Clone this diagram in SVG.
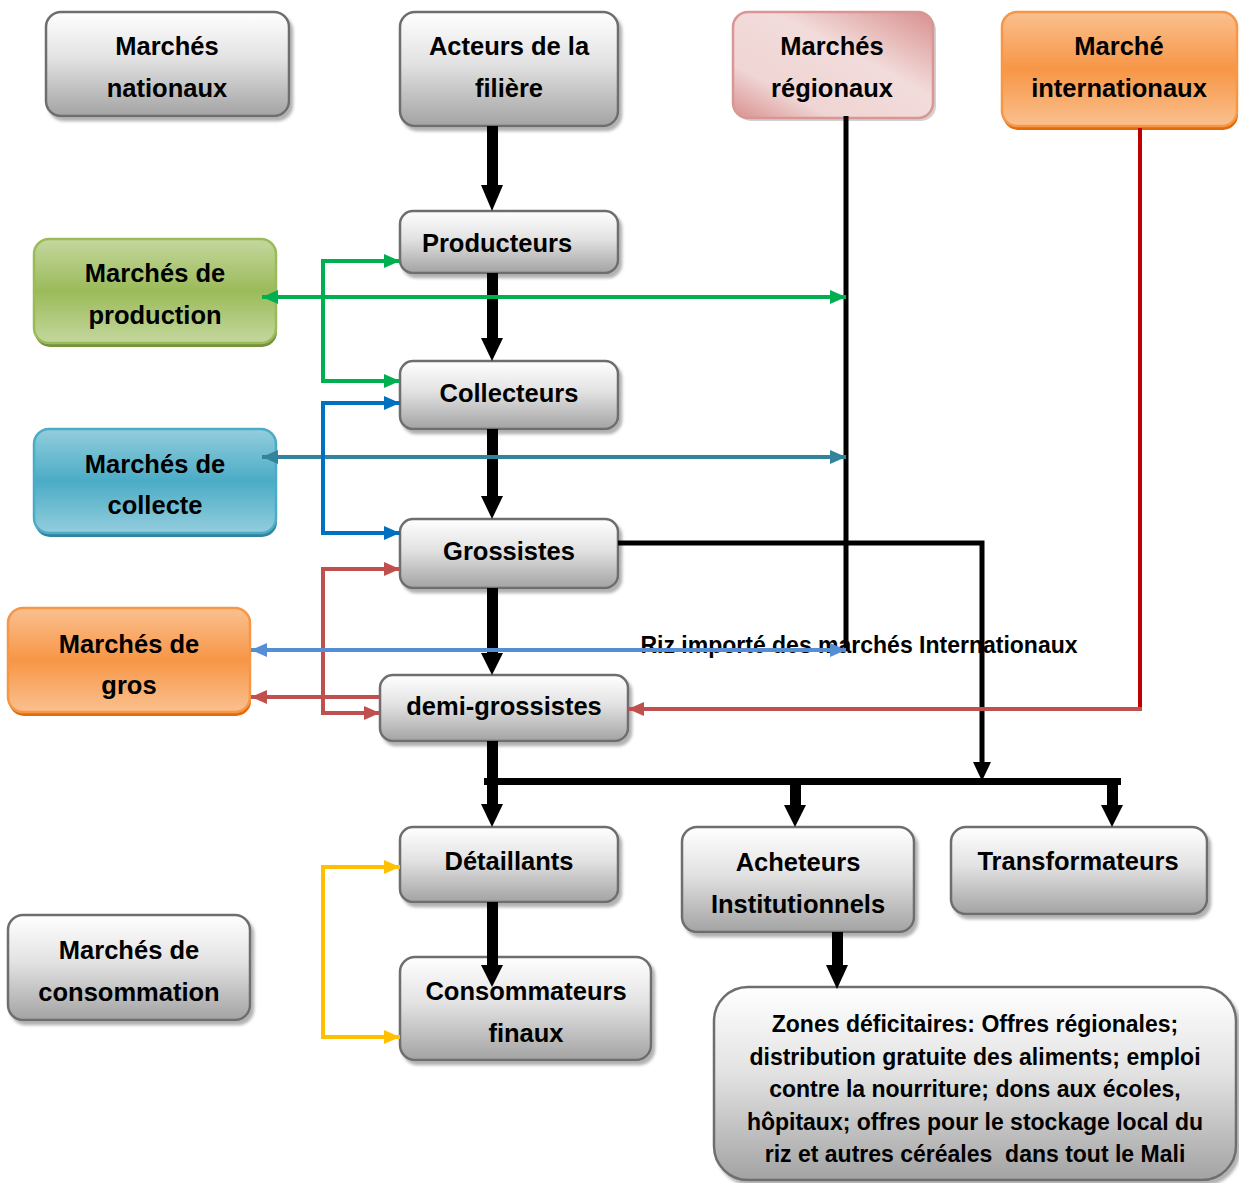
<svg xmlns="http://www.w3.org/2000/svg" width="1239" height="1183" viewBox="0 0 1239 1183">
<defs>
<linearGradient id="gGray" x1="0" y1="0" x2="0" y2="1"><stop offset="0" stop-color="#ffffff"/><stop offset="0.45" stop-color="#e2e2e2"/><stop offset="1" stop-color="#a3a3a3"/></linearGradient>
<linearGradient id="gGreen" x1="0" y1="0" x2="0" y2="1"><stop offset="0" stop-color="#c4d79e"/><stop offset="0.5" stop-color="#9bbb59"/><stop offset="1" stop-color="#c4d79e"/></linearGradient>
<linearGradient id="gBlue" x1="0" y1="0" x2="0" y2="1"><stop offset="0" stop-color="#93cddd"/><stop offset="0.5" stop-color="#4bacc6"/><stop offset="1" stop-color="#93cddd"/></linearGradient>
<linearGradient id="gOrange" x1="0" y1="0" x2="0" y2="1"><stop offset="0" stop-color="#fac08f"/><stop offset="0.5" stop-color="#f79646"/><stop offset="1" stop-color="#fac08f"/></linearGradient>
<linearGradient id="gPink" x1="1" y1="0" x2="0" y2="1"><stop offset="0" stop-color="#d8908e"/><stop offset="0.4" stop-color="#f2dcdb"/><stop offset="0.75" stop-color="#efd5d4"/><stop offset="1" stop-color="#d8908e"/></linearGradient>
<filter id="sh" x="-10%" y="-10%" width="125%" height="130%"><feDropShadow dx="3" dy="4" stdDeviation="1.5" flood-color="#000" flood-opacity="0.3"/></filter>
<marker id="aG" markerWidth="16" markerHeight="14" refX="16" refY="7" orient="auto-start-reverse" markerUnits="userSpaceOnUse"><path d="M0,0 L16,7 L0,14 z" fill="#00b050"/></marker>
<marker id="aT" markerWidth="16" markerHeight="14" refX="16" refY="7" orient="auto-start-reverse" markerUnits="userSpaceOnUse"><path d="M0,0 L16,7 L0,14 z" fill="#31849b"/></marker>
<marker id="aB" markerWidth="16" markerHeight="14" refX="16" refY="7" orient="auto-start-reverse" markerUnits="userSpaceOnUse"><path d="M0,0 L16,7 L0,14 z" fill="#0070c0"/></marker>
<marker id="aR" markerWidth="16" markerHeight="14" refX="16" refY="7" orient="auto-start-reverse" markerUnits="userSpaceOnUse"><path d="M0,0 L16,7 L0,14 z" fill="#c0504d"/></marker>
<marker id="aL" markerWidth="16" markerHeight="14" refX="16" refY="7" orient="auto-start-reverse" markerUnits="userSpaceOnUse"><path d="M0,0 L16,7 L0,14 z" fill="#558ed5"/></marker>
<marker id="aY" markerWidth="16" markerHeight="14" refX="16" refY="7" orient="auto-start-reverse" markerUnits="userSpaceOnUse"><path d="M0,0 L16,7 L0,14 z" fill="#ffc000"/></marker>
</defs>
<style>
text{font-family:"Liberation Sans",Arial,sans-serif;font-weight:bold;fill:#000;text-anchor:middle}
.t{font-size:25.5px}
.z{font-size:23px}
.gray{fill:url(#gGray);stroke:#6e6e6e;stroke-width:2.5;filter:url(#sh)}
.green{fill:url(#gGreen);stroke:#9bbb59;stroke-width:2.5}
.blue{fill:url(#gBlue);stroke:#4bacc6;stroke-width:2.5}
.orange{fill:url(#gOrange);stroke:#f79646;stroke-width:2.5}
.pink{fill:url(#gPink);stroke:#d99694;stroke-width:2.5}
.c{fill:none;stroke-width:4}
.k{fill:#000}
</style>
<rect width="1239" height="1183" fill="#fff"/>

<g id="n-nationaux"><rect class="gray" x="46" y="12" width="243" height="104" rx="15"/><text class="t" x="167" y="55">Marchés</text><text class="t" x="167" y="97">nationaux</text></g>
<g id="n-acteurs"><rect class="gray" x="400" y="12" width="218" height="114" rx="15"/><text class="t" x="509" y="55">Acteurs de la</text><text class="t" x="509" y="97">filière</text></g>
<g id="n-regionaux"><rect x="736" y="15" width="200" height="106" rx="15" fill="#b3b3b3" opacity="0.6"/><rect class="pink" x="733" y="12" width="200" height="106" rx="15"/><text class="t" x="832" y="55">Marchés</text><text class="t" x="832" y="97">régionaux</text></g>
<g id="n-internationaux"><rect x="1003" y="16" width="235" height="114" rx="15" fill="#e36c09"/><rect class="orange" x="1002" y="12" width="235" height="114" rx="15"/><text class="t" x="1119" y="55">Marché</text><text class="t" x="1119" y="97">internationaux</text></g>
<g id="n-producteurs"><rect class="gray" x="400" y="211" width="218" height="62" rx="13"/><text class="t" x="497" y="252">Producteurs</text></g>
<g id="n-mprod"><rect x="35" y="243" width="242" height="104" rx="15" fill="#76923c"/><rect class="green" x="34" y="239" width="242" height="104" rx="15"/><text class="t" x="155" y="282">Marchés de</text><text class="t" x="155" y="324">production</text></g>
<g id="n-collecteurs"><rect class="gray" x="400" y="361" width="218" height="68" rx="13"/><text class="t" x="509" y="402">Collecteurs</text></g>
<g id="n-mcoll"><rect x="35" y="433" width="242" height="104" rx="15" fill="#31849b"/><rect class="blue" x="34" y="429" width="242" height="104" rx="15"/><text class="t" x="155" y="473">Marchés de</text><text class="t" x="155" y="514">collecte</text></g>
<g id="n-grossistes"><rect class="gray" x="400" y="519" width="218" height="69" rx="13"/><text class="t" x="509" y="560">Grossistes</text></g>
<g id="n-mgros"><rect x="9" y="612" width="242" height="104" rx="15" fill="#e36c09"/><rect class="orange" x="8" y="608" width="242" height="104" rx="15"/><text class="t" x="129" y="653">Marchés de</text><text class="t" x="129" y="694">gros</text></g>
<g id="n-demi"><rect class="gray" x="380" y="675" width="248" height="66" rx="13"/><text class="t" x="504" y="715">demi-grossistes</text></g>
<g id="n-detaillants"><rect class="gray" x="400" y="827" width="218" height="75" rx="13"/><text class="t" x="509" y="870">Détaillants</text></g>
<g id="n-consommateurs"><rect class="gray" x="400" y="957" width="251" height="103" rx="15"/><text class="t" x="526" y="1000">Consommateurs</text><text class="t" x="526" y="1042">finaux</text></g>
<g id="n-mcons"><rect class="gray" x="8" y="915" width="242" height="105" rx="15"/><text class="t" x="129" y="959">Marchés de</text><text class="t" x="129" y="1001">consommation</text></g>
<g id="n-acheteurs"><rect class="gray" x="682" y="827" width="232" height="105" rx="15"/><text class="t" x="798" y="871">Acheteurs</text><text class="t" x="798" y="913">Institutionnels</text></g>
<g id="n-transformateurs"><rect class="gray" x="951" y="827" width="256" height="87" rx="15"/><text class="t" x="1078" y="870">Transformateurs</text></g>
<g id="n-zones"><rect class="gray" x="714" y="987" width="522" height="193" rx="34"/>
<text class="z" x="975" y="1032">Zones déficitaires: Offres régionales;</text>
<text class="z" x="975" y="1065">distribution gratuite des aliments; emploi</text>
<text class="z" x="975" y="1097">contre la nourriture; dons aux écoles,</text>
<text class="z" x="975" y="1130">hôpitaux; offres pour le stockage local du</text>
<text class="z" x="975" y="1162" xml:space="preserve">riz et autres céréales  dans tout le Mali</text></g>

<g id="label-riz"><text class="z" x="859" y="653">Riz importé des marchés Internationaux</text></g>

<g id="connectors">
<rect class="k" x="487" y="126" width="11" height="60"/><polygon class="k" points="481,185 503,185 492,211"/>
<rect class="k" x="487" y="273" width="11" height="66"/><polygon class="k" points="481,338 503,338 492,361"/>
<rect class="k" x="487" y="429" width="11" height="68"/><polygon class="k" points="481,496 503,496 492,519"/>
<rect class="k" x="487" y="588" width="11" height="66"/><polygon class="k" points="481,653 503,653 492,675"/>
<rect class="k" x="487" y="741" width="11" height="64"/><polygon class="k" points="481,804 503,804 492,827"/>
<rect class="k" x="487" y="902" width="11" height="64"/><polygon class="k" points="481,965 503,965 492,987"/>
<rect class="k" x="484" y="778" width="637" height="7"/>
<rect class="k" x="790" y="781" width="11" height="25"/><polygon class="k" points="784,805 806,805 795,827"/>
<rect class="k" x="1107" y="781" width="11" height="25"/><polygon class="k" points="1101,805 1123,805 1112,827"/>
<rect class="k" x="832" y="932" width="11" height="34"/><polygon class="k" points="826,965 848,965 837,989"/>
<path d="M618,543 H982 V764" fill="none" stroke="#000" stroke-width="5"/><polygon class="k" points="973,762 991,762 982,781"/>
<line x1="846" y1="116" x2="846" y2="651" stroke="#000" stroke-width="5"/>
<line x1="1140" y1="128" x2="1140" y2="711" stroke="#c00000" stroke-width="4"/>
<line x1="1142" y1="709" x2="628" y2="709" class="c" stroke="#c0504d" marker-end="url(#aR)"/>
<path class="c" stroke="#00b050" d="M400,261 H323 V381 H400" marker-start="url(#aG)" marker-end="url(#aG)"/>
<line class="c" stroke="#00b050" x1="262" y1="297" x2="846" y2="297" marker-start="url(#aG)" marker-end="url(#aG)"/>
<line class="c" stroke="#31849b" x1="262" y1="457" x2="846" y2="457" marker-start="url(#aT)" marker-end="url(#aT)"/>
<path class="c" stroke="#0070c0" d="M400,403 H323 V533 H400" marker-start="url(#aB)" marker-end="url(#aB)"/>
<path class="c" stroke="#c0504d" d="M400,569 H323 V713 H380" marker-start="url(#aR)" marker-end="url(#aR)"/>
<line class="c" stroke="#c0504d" x1="380" y1="697" x2="251" y2="697" marker-end="url(#aR)"/>
<line class="c" stroke="#558ed5" x1="251" y1="650" x2="846" y2="650" marker-start="url(#aL)" marker-end="url(#aL)"/>
<path class="c" stroke="#ffc000" d="M400,867 H323 V1037 H400" marker-start="url(#aY)" marker-end="url(#aY)"/>
</g>
</svg>
